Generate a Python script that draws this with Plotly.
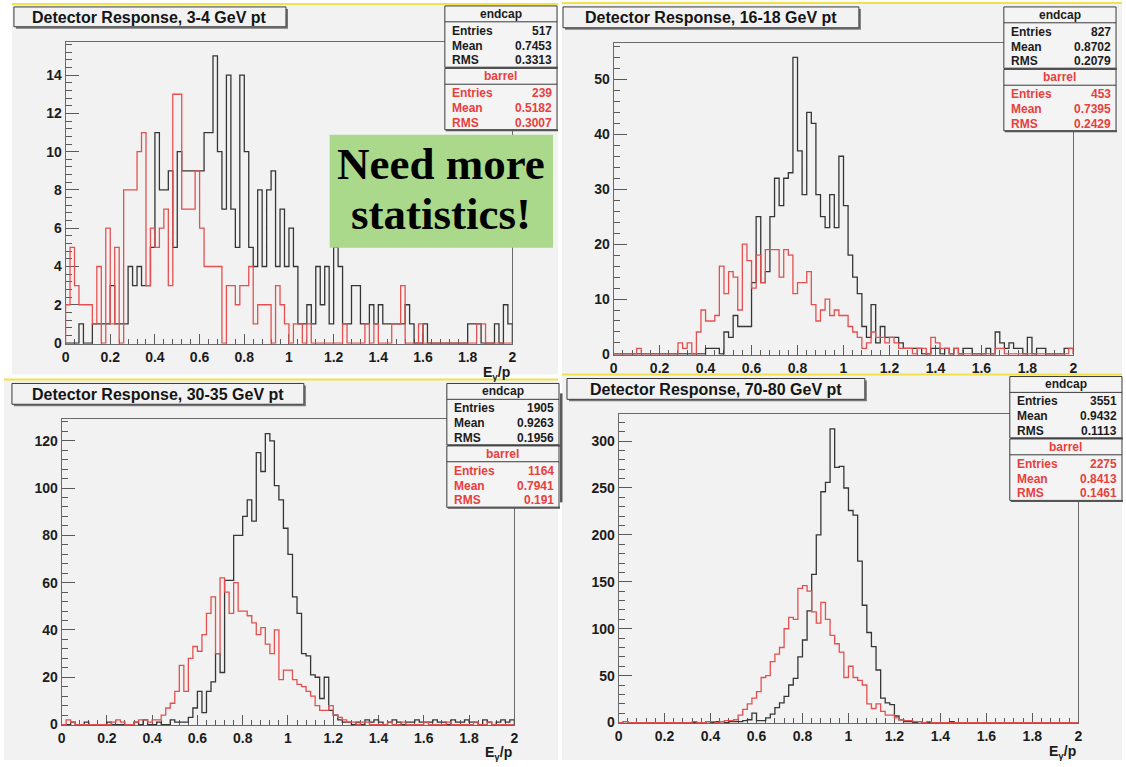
import numpy as np
import plotly.graph_objects as go

W, H = 1126, 767

# Bin contents: 100 bins of E/p between 0 and 2 (bin width 0.02)
ENDCAP_3_4 = [
    0, 0, 0, 1, 0, 0, 1, 1, 1, 1,
    3, 1, 1, 1, 4, 3, 4, 3, 3, 5,
    11, 8, 8, 9, 5, 10, 9, 9, 9, 9,
    9, 11, 11, 15, 10, 7, 14, 7, 5, 14,
    10, 5, 4, 8, 4, 8, 9, 4, 7, 4,
    6, 4, 1, 1, 2, 1, 4, 2, 4, 1,
    5, 4, 1, 1, 3, 3, 1, 1, 2, 1,
    2, 1, 1, 1, 1, 1, 2, 1, 0, 0,
    1, 0, 0, 0, 0, 0, 0, 0, 0, 0,
    1, 1, 1, 0, 0, 0, 1, 0, 2, 1]
BARREL_3_4 = [
    2, 5, 3, 2, 2, 2, 1, 4, 0, 6,
    1, 5, 0, 8, 8, 8, 10, 11, 3, 6,
    5, 6, 7, 3, 13, 13, 7, 7, 7, 9,
    6, 4, 4, 4, 4, 0, 3, 3, 2, 3,
    3, 4, 1, 2, 2, 2, 0, 3, 2, 1,
    0, 1, 1, 0, 1, 0, 0, 0, 0, 0,
    0, 0, 1, 0, 0, 0, 0, 1, 0, 1,
    0, 0, 0, 1, 1, 3, 0, 0, 0, 1,
    0, 0, 0, 0, 0, 0, 0, 0, 0, 0,
    0, 0, 1, 1, 0, 0, 0, 0, 0, 0]

ENDCAP_16_18 = [
    0, 0, 0, 0, 0, 0, 0, 0, 0, 0,
    0, 0, 0, 0, 0, 0, 0, 0, 0, 0,
    1, 1, 1, 0, 4, 3, 7, 5, 5, 5,
    13, 25, 13, 15, 25, 32, 27, 32, 33, 54,
    37, 29, 44, 42, 29, 25, 23, 29, 23, 36,
    27, 18, 14, 11, 5, 3, 9, 2, 5, 3,
    3, 3, 2, 1, 1, 1, 1, 0, 0, 1,
    1, 0, 1, 0, 1, 0, 1, 1, 0, 0,
    0, 1, 0, 4, 2, 1, 2, 1, 1, 0,
    3, 0, 1, 1, 0, 0, 0, 0, 1, 1]
BARREL_16_18 = [
    0, 0, 0, 0, 0, 1, 0, 0, 0, 0,
    0, 0, 0, 0, 2, 1, 2, 0, 4, 8,
    6, 6, 7, 16, 11, 15, 14, 8, 20, 17,
    12, 18, 13, 19, 19, 19, 14, 19, 18, 11,
    13, 13, 15, 9, 6, 8, 10, 7, 8, 7,
    7, 5, 4, 3, 1, 2, 4, 3, 3, 2,
    3, 2, 1, 1, 1, 0, 1, 1, 0, 3,
    2, 1, 1, 0, 1, 0, 0, 0, 0, 0,
    0, 0, 0, 1, 1, 0, 0, 0, 0, 0,
    0, 0, 0, 0, 0, 0, 0, 0, 0, 1]

ENDCAP_30_35 = [
    0, 0, 1, 0, 0, 1, 0, 0, 0, 0,
    1, 0, 0, 0, 0, 0, 1, 0, 2, 0,
    0, 1, 0, 0, 2, 1, 1, 1, 3, 7,
    14, 5, 14, 18, 30, 22, 61, 61, 80, 80,
    88, 95, 86, 115, 107, 123, 120, 101, 95, 83,
    72, 54, 47, 30, 29, 21, 20, 11, 20, 6,
    4, 2, 1, 1, 0, 1, 0, 2, 1, 2,
    1, 0, 1, 2, 1, 0, 1, 1, 2, 1,
    1, 1, 2, 1, 1, 0, 2, 1, 1, 2,
    1, 1, 0, 2, 1, 0, 1, 2, 1, 2]
BARREL_30_35 = [
    0, 2, 1, 0, 0, 0, 0, 0, 0, 0,
    0, 1, 2, 1, 0, 0, 1, 2, 2, 1,
    2, 2, 4, 7, 9, 14, 25, 14, 28, 33,
    31, 38, 47, 54, 30, 62, 56, 47, 60, 48,
    48, 46, 43, 38, 41, 34, 30, 40, 19, 23,
    23, 19, 17, 16, 14, 12, 8, 6, 6, 8,
    4, 3, 2, 1, 1, 0, 1, 1, 0, 0,
    0, 0, 1, 0, 0, 1, 0, 0, 0, 0,
    1, 0, 0, 0, 0, 1, 0, 0, 0, 0,
    0, 1, 0, 0, 1, 0, 0, 0, 0, 0]

ENDCAP_70_80 = [
    0, 1, 0, 0, 0, 0, 0, 0, 0, 0,
    0, 0, 0, 0, 0, 0, 0, 0, 0, 1,
    0, 1, 1, 0, 1, 1, 1, 2, 3, 10,
    2, 2, 5, 9, 16, 21, 28, 40, 47, 70,
    88, 119, 158, 200, 246, 256, 313, 272, 273, 250,
    226, 221, 172, 125, 96, 81, 56, 26, 21, 19,
    7, 3, 1, 1, 0, 1, 0, 0, 0, 0,
    0, 0, 1, 0, 0, 0, 0, 0, 0, 0,
    0, 0, 0, 0, 0, 0, 0, 0, 0, 0,
    0, 0, 0, 0, 0, 0, 0, 0, 0, 0]
BARREL_70_80 = [
    0, 1, 0, 0, 0, 0, 0, 0, 0, 0,
    0, 0, 0, 0, 0, 0, 1, 0, 0, 1,
    1, 0, 1, 2, 2, 3, 8, 14, 20, 26,
    33, 48, 50, 65, 73, 80, 100, 112, 110, 143,
    146, 140, 118, 106, 128, 110, 93, 84, 75, 48,
    60, 48, 45, 40, 20, 15, 20, 12, 8, 8,
    5, 3, 2, 2, 1, 1, 0, 1, 0, 0,
    0, 0, 0, 0, 0, 0, 0, 0, 0, 0,
    0, 0, 0, 0, 0, 0, 0, 0, 0, 0,
    0, 0, 0, 0, 0, 0, 0, 0, 0, 0]

TITLES = ["Detector Response, 3-4 GeV pt", "Detector Response, 16-18 GeV pt",
          "Detector Response, 30-35 GeV pt", "Detector Response, 70-80 GeV pt"]
ENDCAPS = [ENDCAP_3_4, ENDCAP_16_18, ENDCAP_30_35, ENDCAP_70_80]
BARRELS = [BARREL_3_4, BARREL_16_18, BARREL_30_35, BARREL_70_80]
ENDCAP_ENTRIES = ["517", "827", "1905", "3551"]
ENDCAP_MEAN = ["0.7453", "0.8702", "0.9263", "0.9432"]
ENDCAP_RMS = ["0.3313", "0.2079", "0.1956", "0.1113"]
BARREL_ENTRIES = ["239", "453", "1164", "2275"]
BARREL_MEAN = ["0.5182", "0.7395", "0.7941", "0.8413"]
BARREL_RMS = ["0.3007", "0.2429", "0.191", "0.1461"]
Y_DTICKS = [2, 10, 20, 50]
X_LABEL = "<b>E<sub>γ</sub>/p</b>"

# Pad geometry in pixels: pad rect, frame rect, title box, stats box corner,
# vertical anchor of the x-axis label
PADS = [
    dict(pad=(8, 4, 558, 378), frame=(62, 42, 512, 347), title=(10, 7, 284, 27),
         stats=(444, 6), xlab=376),
    dict(pad=(562, 3, 1126, 378), frame=(614, 43, 1077, 358), title=(563, 7, 861, 28),
         stats=(1007, 7), xlab=None),
    dict(pad=(0, 383, 558, 767), frame=(58, 423, 514, 732), title=(8, 387, 302, 408),
         stats=(446, 387), xlab=760),
    dict(pad=(562, 378, 1126, 767), frame=(619, 418, 1082, 730), title=(567, 382, 867, 403),
         stats=(1013, 380), xlab=759),
]

BLACK = "#363636"
RED = "#e4504f"
SANS = "Liberation Sans, Arial, sans-serif"


def px(x):
    return x / W


def py(y):
    return 1 - y / H


def step_xy(counts):
    edges = np.linspace(0, 2, len(counts) + 1)
    xs = [0.0] + list(edges[:-1]) + [2.0, 2.0]
    ys = [0] + list(counts) + [counts[-1], 0]
    return xs, ys


fig = go.Figure()
shapes = []
annotations = []


def rect(x0, y0, x1, y1, fill=None, line=None, lw=1, layer="above"):
    shapes.append(dict(type="rect", xref="paper", yref="paper",
                       x0=px(x0), x1=px(x1), y0=py(y1), y1=py(y0),
                       fillcolor=fill if fill else "rgba(0,0,0,0)",
                       line=dict(color=line if line else "rgba(0,0,0,0)", width=lw if line else 0),
                       layer=layer))


def seg(x0, y0, x1, y1, color, lw=1, layer="above"):
    shapes.append(dict(type="line", xref="paper", yref="paper",
                       x0=px(x0), x1=px(x1), y0=py(y0), y1=py(y1),
                       line=dict(color=color, width=lw), layer=layer))


def text(x, y, s, size=12, color="#222", xanchor="center", family=SANS, yanchor="middle"):
    annotations.append(dict(xref="paper", yref="paper", x=px(x), y=py(y), text=s,
                            showarrow=False, xanchor=xanchor, yanchor=yanchor,
                            font=dict(family=family, size=size, color=color)))


def stats_block(left, top, name, entries, mean, rms, color):
    w, h = 113, 62
    rect(left, top, left + w, top + h, fill="#f4f4f4", line="#3a3a3a", lw=1)
    seg(left + 1, top + h + 0.5, left + w + 1, top + h + 0.5, "#555", 2)
    seg(left, top + 16, left + w, top + 16, "#3a3a3a", 1)
    text(left + w / 2, top + 8, "<b>" + name + "</b>", 12, color)
    for k, (lab, val) in enumerate([("Entries", entries), ("Mean", mean), ("RMS", rms)]):
        yy = top + 25 + 15 * k
        text(left + 5, yy, "<b>" + lab + "</b>", 12, color, "left")
        text(left + w - 3, yy, "<b>" + val + "</b>", 12, color, "right")


# pad backgrounds and the yellow pad edges
for p in PADS:
    x0, y0, x1, y1 = p["pad"]
    rect(x0, y0, x1, y1, fill="#f2f2f2", layer="below")
    seg(x0, y0, x1, y0, "#f0e24a", 2, layer="below")
rect(560, 397, 562.5, 507, fill="#5a5a5a", layer="below")

for i, p in enumerate(PADS):
    xa = "x" if i == 0 else f"x{i + 1}"
    ya = "y" if i == 0 else f"y{i + 1}"
    fx0, fy0, fx1, fy1 = p["frame"]
    ymax = 1.05 * max(max(ENDCAPS[i]), max(BARRELS[i]))
    ymin = -ymax / (fy1 - fy0) * 0.8

    for counts, color in [(ENDCAPS[i], BLACK), (BARRELS[i], RED)]:
        xs, ys = step_xy(counts)
        fig.add_trace(go.Scatter(x=xs, y=ys, mode="lines", line_shape="hv",
                                 line=dict(color=color, width=1.3),
                                 xaxis=xa, yaxis=ya, showlegend=False, hoverinfo="skip"))

    axis_common = dict(showgrid=False, zeroline=False, showline=True, mirror=True,
                       linecolor="#6a6a6a", linewidth=1, ticks="inside", tickcolor="#5a5a5a",
                       tickwidth=1, layer="below traces", fixedrange=True,
                       tickfont=dict(family=SANS, size=14, color="#1c1c1c", weight="bold"))
    xkey = "xaxis" if i == 0 else f"xaxis{i + 1}"
    ykey = "yaxis" if i == 0 else f"yaxis{i + 1}"
    fig.layout[xkey] = dict(axis_common, domain=[px(fx0), px(fx1)], range=[0, 2],
                            tick0=0, dtick=0.2, ticklen=10, anchor=ya,
                            minor=dict(dtick=0.04, ticklen=5, ticks="inside",
                                       tickcolor="#5a5a5a", showgrid=False))
    fig.layout[ykey] = dict(axis_common, domain=[py(fy1), py(fy0)], range=[ymin, ymax],
                            tick0=0, dtick=Y_DTICKS[i], ticklen=13, anchor=xa,
                            minor=dict(dtick=Y_DTICKS[i] / 5, ticklen=6.5, ticks="inside",
                                       tickcolor="#5a5a5a", showgrid=False))

    # title box with drop shadow
    tx0, ty0, tx1, ty1 = p["title"]
    seg(tx0 + 2, ty1 + 1, tx1 + 2, ty1 + 1, "#777", 2)
    seg(tx1 + 1, ty0 + 2, tx1 + 1, ty1 + 1, "#777", 2)
    rect(tx0, ty0, tx1, ty1, fill="#f2f2f2", line="#3a3a3a", lw=1)
    text((tx0 + tx1) / 2, (ty0 + ty1) / 2 + 0.5, "<b>" + TITLES[i] + "</b>", 16, "#151515")

    # statistics boxes
    sx, sy = p["stats"]
    stats_block(sx, sy, "endcap", ENDCAP_ENTRIES[i], ENDCAP_MEAN[i], ENDCAP_RMS[i], "#1c1c1c")
    stats_block(sx, sy + 63, "barrel", BARREL_ENTRIES[i], BARREL_MEAN[i], BARREL_RMS[i], "#e8403e")

    if p["xlab"] is not None:
        text(fx1, p["xlab"], X_LABEL, 14, "#1c1c1c", "right", yanchor="middle")

# callout on the low-pt panel
rect(328, 136, 553, 250, fill="#aad98c", layer="above")
text(440.5, 166, "<b>Need more</b>", 45, "#000", family="Liberation Serif, Times New Roman, serif")
text(440.5, 216, "<b>statistics!</b>", 45, "#000", family="Liberation Serif, Times New Roman, serif")

fig.update_layout(width=W, height=H, margin=dict(l=0, r=0, t=0, b=0),
                  paper_bgcolor="#ffffff", plot_bgcolor="rgba(0,0,0,0)",
                  shapes=shapes, annotations=annotations, showlegend=False)

fig.write_html("out.html", config=dict(displayModeBar=False))
